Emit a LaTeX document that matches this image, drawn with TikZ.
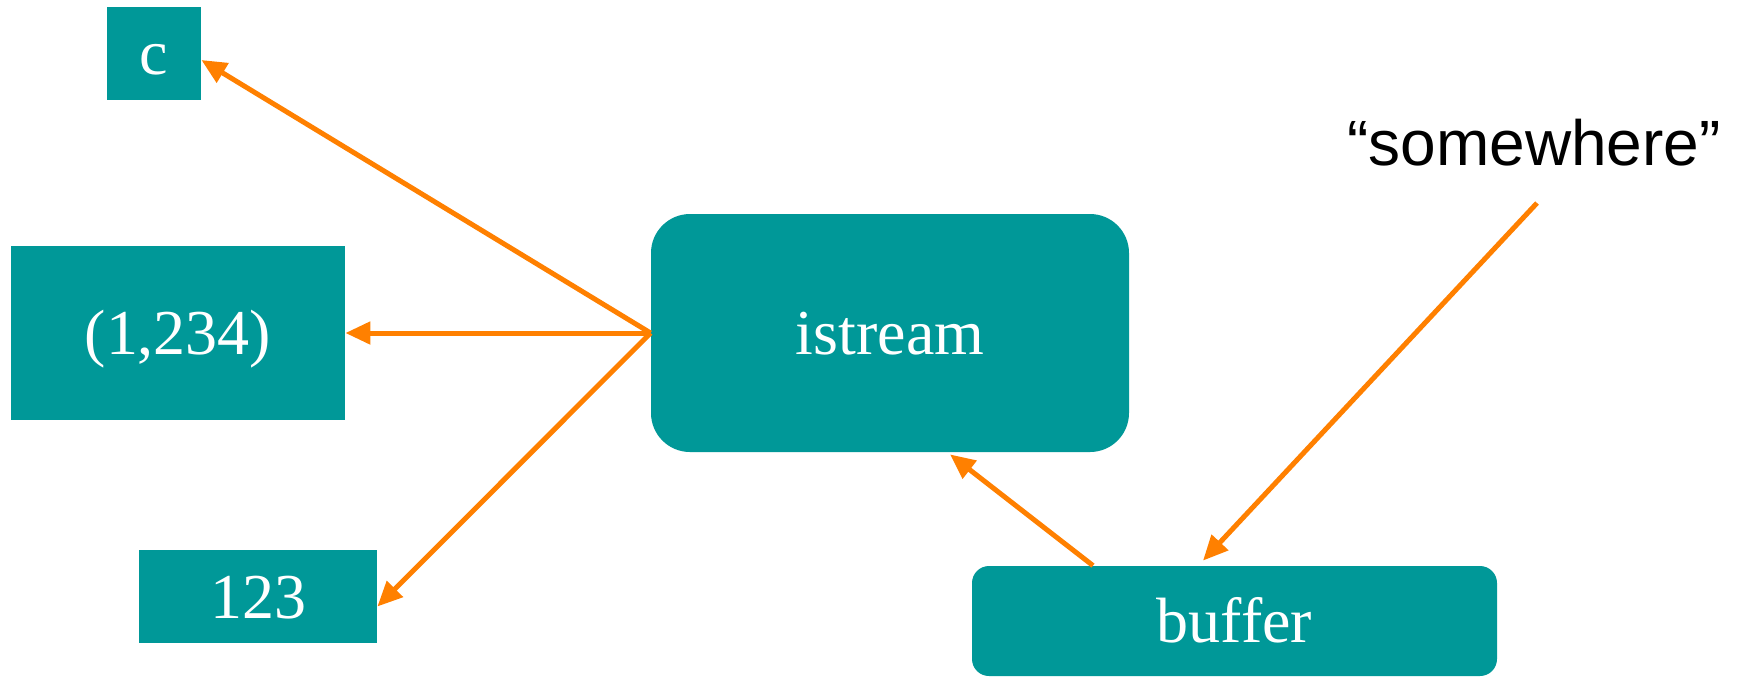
\documentclass[tikz,border=0pt]{standalone}
\usepackage{fontspec}
\setmainfont{Liberation Serif}
\newfontfamily\labelsans{Liberation Sans}
\usetikzlibrary{arrows.meta,calc}
\definecolor{boxteal}{RGB}{0,152,152}
\definecolor{flow}{RGB}{255,128,0}
\begin{document}
\begin{tikzpicture}[x=0.5pt,y=-0.5pt,
  every node/.style={font=\fontsize{32}{38}\selectfont},
  box/.style={fill=boxteal, text=white, inner sep=0pt, text height=21.8pt, text depth=0pt},
  flowarrow/.style={draw=flow, line width=2.5pt, -{Triangle[length=12.5pt,width=11pt]}}]
  % canvas
  \useasboundingbox (0,0) rectangle (1741,677);
  \fill[white] (0,0) rectangle (1741,677);

  % values read from the stream
  \node[box, minimum width=47pt, minimum height=46.5pt] (c) at (154,53) {c};
  \node[box, minimum width=167pt, minimum height=87pt] (pair) at (178,333) {(1,234)};
  \node[box, minimum width=119pt, minimum height=46.5pt] (num) at (258,596.5) {123};

  % stream and its buffer
  \node[box, rounded corners=19.5pt, minimum width=239pt, minimum height=119pt] (istream) at (890,333) {istream};
  \node[box, rounded corners=8.5pt, minimum width=262.5pt, minimum height=55pt] (buffer) at (1234.5,621) {buffer};

  % external source
  \node[font=\labelsans\fontsize{32}{38}\selectfont, anchor=base, inner sep=0pt] (somewhere) at (1534,165) {“somewhere”};
  \coordinate (src) at (1537,203);

  % data flow
  \draw[flowarrow] (istream.west) -- ([yshift=-3.5pt]c.east);
  \draw[flowarrow] (istream.west) -- (pair.east);
  \draw[flowarrow] (istream.west) -- ([yshift=-5pt]num.east);
  \draw[flowarrow] ([xshift=-70.75pt]buffer.north) -- ([xshift=30pt,yshift=-1pt]istream.south);
  \draw[flowarrow] (src) -- ([xshift=-15.75pt,yshift=2.5pt]buffer.north);
\end{tikzpicture}
\end{document}
